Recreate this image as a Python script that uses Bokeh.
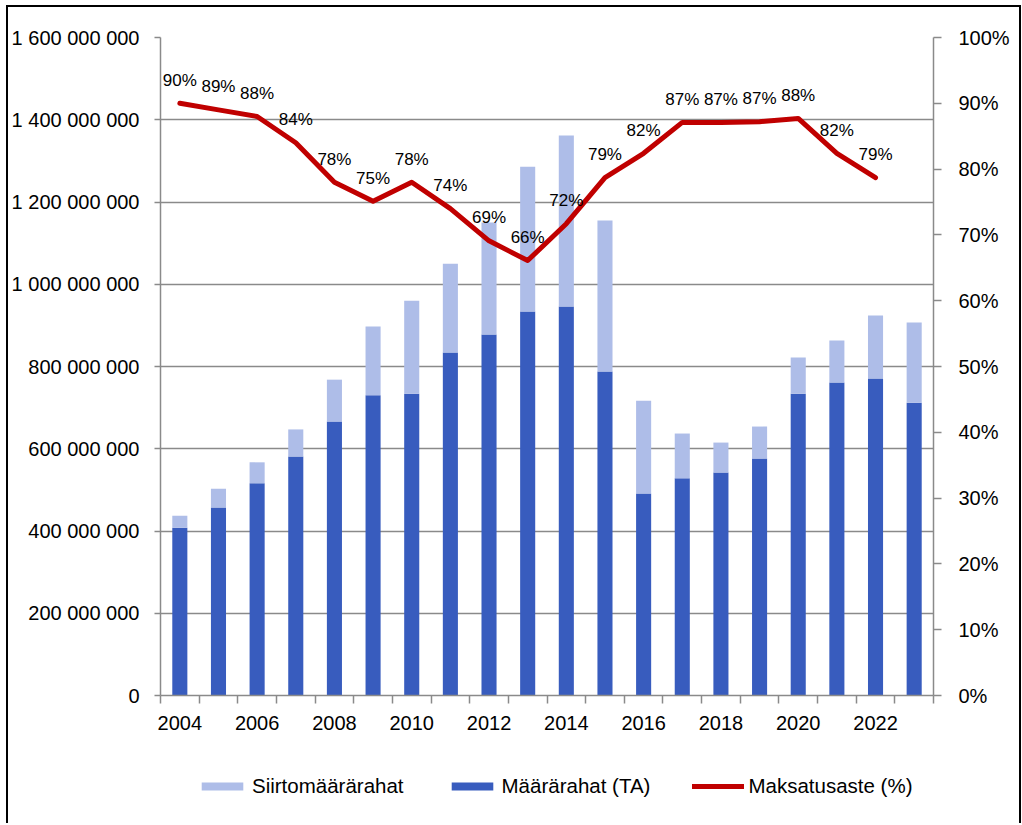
from bokeh.plotting import figure
from bokeh.layouts import column
from bokeh.models import (ColumnDataSource, Range1d, LinearAxis, FixedTicker,
                          Legend, LegendItem)
from bokeh.core.properties import value
from bokeh.embed import file_html
from bokeh.resources import INLINE

# ---------------- data ----------------
years = list(range(2004, 2024))
maararahat_ta = [408_000_000, 457_000_000, 516_000_000, 581_000_000, 666_000_000,
                 730_000_000, 734_000_000, 834_000_000, 878_000_000, 934_000_000,
                 946_000_000, 788_000_000, 491_000_000, 528_000_000, 542_000_000,
                 576_000_000, 734_000_000, 761_000_000, 771_000_000, 712_000_000]
siirtomaararahat = [29_000_000, 46_000_000, 51_000_000, 66_000_000, 102_000_000,
                    167_000_000, 226_000_000, 216_000_000, 272_000_000, 352_000_000,
                    416_000_000, 367_000_000, 226_000_000, 109_000_000, 73_000_000,
                    78_000_000, 88_000_000, 102_000_000, 153_000_000, 195_000_000]
rate_years = list(range(2004, 2023))
maksatusaste_pct = [90.0, 89.0, 88.0, 84.0, 78.0, 75.1, 78.0, 74.0, 69.1, 66.1,
                    71.7, 78.7, 82.4, 87.1, 87.1, 87.2, 87.7, 82.4, 78.7]

left_ticks = [0, 200_000_000, 400_000_000, 600_000_000, 800_000_000,
              1_000_000_000, 1_200_000_000, 1_400_000_000, 1_600_000_000]
left_tick_labels = ["0", "200 000 000", "400 000 000", "600 000 000", "800 000 000",
                    "1 000 000 000", "1 200 000 000", "1 400 000 000", "1 600 000 000"]
right_ticks = [0.0, 0.1, 0.2, 0.3, 0.4, 0.5, 0.6, 0.7, 0.8, 0.9, 1.0]
right_tick_labels = ["0%", "10%", "20%", "30%", "40%", "50%", "60%", "70%",
                     "80%", "90%", "100%"]
x_label_years = [2004, 2006, 2008, 2010, 2012, 2014, 2016, 2018, 2020, 2022]

series_names = ["Siirtomäärärahat", "Määrärahat (TA)", "Maksatusaste (%)"]

# ---------------- style ----------------
DARK = "#385CBE"
LIGHT = "#AEBDE8"
RED = "#C00000"
GRAY = "#8A8A8A"
FONT = "Liberation Sans"
W = 1011

bar_src = ColumnDataSource(dict(year=years, maara=maararahat_ta, siirto=siirtomaararahat))
line_src = ColumnDataSource(dict(
    year=rate_years,
    rate=[v / 100 for v in maksatusaste_pct],
    label=[f"{round(v)}%" for v in maksatusaste_pct],
))

x_range = Range1d(2003.5, 2023.5)
p = figure(width=W, height=733, output_backend="svg", toolbar_location=None,
           x_range=x_range, y_range=Range1d(0, 1_600_000_000),
           min_border_left=150, min_border_right=86, min_border_top=30,
           min_border_bottom=45)
p.outline_line_color = None
p.background_fill_color = "white"
p.border_fill_color = "white"

p.extra_y_ranges = {"pct": Range1d(0, 1)}

bars = p.vbar_stack(["maara", "siirto"], x="year", width=0.39, color=[DARK, LIGHT],
                    line_color=None, source=bar_src)

line = p.line("year", "rate", source=line_src, y_range_name="pct", line_color=RED,
              line_width=5, line_join="round", line_cap="round")

p.text("year", "rate", text="label", source=line_src, y_range_name="pct",
       text_align="center", text_baseline="alphabetic", y_offset=-23,
       text_font=value(FONT), text_font_size="17px", text_color="black")

# ---- axes ----
xax = p.xaxis[0]
bounds = [y - 0.5 for y in years] + [years[-1] + 0.5]
xax.ticker = FixedTicker(ticks=x_label_years, minor_ticks=bounds)
xax.major_tick_line_color = None
xax.major_tick_out = 8
xax.major_tick_in = 0
xax.minor_tick_out = 8
xax.minor_tick_in = 0
xax.minor_tick_line_color = GRAY
xax.minor_tick_line_width = 1.5
xax.axis_line_color = GRAY
xax.axis_line_width = 1.5
xax.major_label_standoff = 12
xax.major_label_text_font = FONT
xax.major_label_text_font_size = "20px"
xax.major_label_text_color = "black"

yax = p.yaxis[0]
yax.ticker = FixedTicker(ticks=left_ticks)
yax.major_label_overrides = dict(zip(left_ticks, left_tick_labels))
yax.major_tick_out = 6
yax.major_tick_in = 0
yax.minor_tick_line_color = None
yax.major_tick_line_color = GRAY
yax.major_tick_line_width = 1.5
yax.axis_line_color = GRAY
yax.axis_line_width = 1.5
yax.major_label_standoff = 15
yax.major_label_text_font = FONT
yax.major_label_text_font_size = "20px"
yax.major_label_text_color = "black"

rax = LinearAxis(y_range_name="pct", ticker=FixedTicker(ticks=right_ticks))
rax.major_label_overrides = dict(zip(right_ticks, right_tick_labels))
rax.major_tick_out = 8
rax.major_tick_in = 0
rax.minor_tick_line_color = None
rax.major_tick_line_color = GRAY
rax.major_tick_line_width = 1.5
rax.axis_line_color = GRAY
rax.axis_line_width = 1.5
rax.major_label_standoff = 17
rax.major_label_text_font = FONT
rax.major_label_text_font_size = "20px"
rax.major_label_text_color = "black"
p.add_layout(rax, "right")

p.xgrid.grid_line_color = None
p.ygrid.ticker = FixedTicker(ticks=left_ticks)
p.ygrid.grid_line_color = GRAY
p.ygrid.grid_line_width = 1.5

# ---- legend strip (separate panel below the chart) ----
# The legend glyphs reuse the real sources; this panel's y range keeps them out of view.
lg = figure(width=W, height=83, output_backend="svg", toolbar_location=None,
            x_range=x_range, y_range=Range1d(2_000_000_000, 3_000_000_000),
            x_axis_location=None, y_axis_location=None, min_border=0)
lg.outline_line_color = None
lg.grid.visible = False
lg.border_fill_color = "white"
g_siirto = lg.vbar(x="year", top="siirto", width=0.39, color=LIGHT, line_color=None,
                   source=bar_src)
g_maara = lg.vbar(x="year", top="maara", width=0.39, color=DARK, line_color=None,
                  source=bar_src)
g_rate = lg.line(x="year", y="rate", line_color=RED, line_width=5, line_cap="round",
                 source=line_src)

legend = Legend(items=[LegendItem(label=series_names[0], renderers=[g_siirto]),
                       LegendItem(label=series_names[1], renderers=[g_maara]),
                       LegendItem(label=series_names[2], renderers=[g_rate])],
                location=(36, 25), orientation="horizontal",
                glyph_width=52, glyph_height=10, label_height=24,
                label_standoff=4, spacing=42,
                padding=0, margin=0, border_line_color=None,
                background_fill_alpha=0,
                label_text_font=FONT, label_text_font_size="20.5px",
                label_text_color="black")
lg.add_layout(legend)

layout = column(p, lg, spacing=0,
                styles={"margin": "5px 0 0 6px",
                        "border-left": "2px solid black",
                        "border-top": "2px solid black",
                        "border-right": "2px solid black"})

open("out.html", "w").write(file_html(layout, INLINE))
